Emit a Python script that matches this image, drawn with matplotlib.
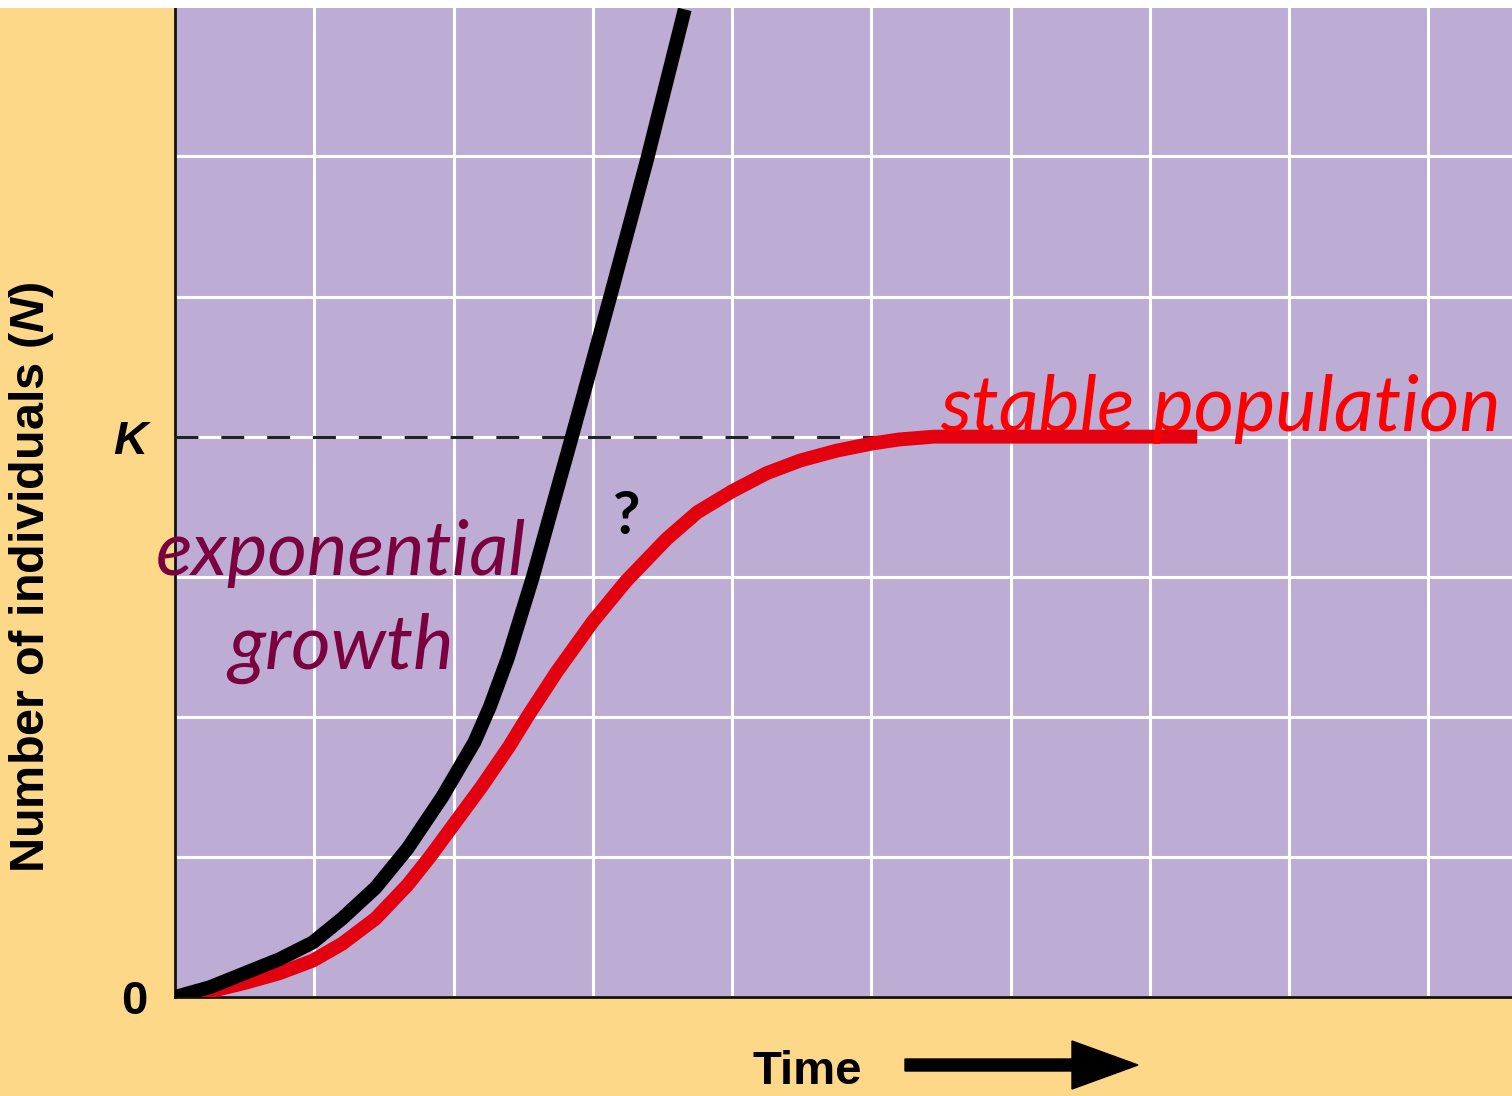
import matplotlib
matplotlib.use('Agg')
import matplotlib.pyplot as plt
from matplotlib.patches import FancyArrow, Rectangle

# values (x in grid cells of time, y in grid cells of N)
exp_time = [0, 0.25, 0.5, 0.75, 0.99, 1.2, 1.44, 1.67, 1.92, 2.15, 2.26, 2.39, 2.57, 2.69, 2.85, 3.12, 3.39, 3.66]
exp_n = [0, 0.07, 0.17, 0.27, 0.39, 0.56, 0.78, 1.06, 1.43, 1.82, 2.07, 2.42, 3.0, 3.43, 4.0, 4.98, 5.98, 7.05]

log_time = [0, 0.25, 0.5, 0.75, 0.99, 1.2, 1.44, 1.67, 1.83, 2.0, 2.2, 2.4, 2.53, 2.74, 3.0, 3.24,
            3.53, 3.75, 4.0, 4.25, 4.49, 4.75, 5.0, 5.2, 5.45, 7.34]
log_n = [0, 0.04, 0.1, 0.17, 0.26, 0.38, 0.56, 0.8, 1.0, 1.23, 1.5, 1.79, 2.0, 2.32, 2.68, 2.97,
         3.27, 3.46, 3.61, 3.74, 3.83, 3.9, 3.95, 3.98, 4.0, 4.0]

K = 4
k_line_end = 5.1
y_ticks = [0, 1, 2, 3, 4, 5, 6]
y_labels = ['0', '', '', '', 'K', '', '']
x_ticks = [1, 2, 3, 4, 5, 6, 7, 8, 9]

orange = '#FDD888'
purple = '#BDADD5'

plt.rcParams['mathtext.fontset'] = 'custom'
plt.rcParams['mathtext.bfit'] = 'Liberation Sans:italic:bold'

fig = plt.figure(figsize=(15.12, 10.96), dpi=100, facecolor=orange)
fig.patches.append(Rectangle((0, 1 - 8 / 1096), 1, 8 / 1096, transform=fig.transFigure,
                             facecolor='white', edgecolor='none'))
ax = fig.add_axes([175 / 1512, 99 / 1096, 1337 / 1512, 989 / 1096])
ax.set_facecolor(purple)

ax.set_xlim(0, 9.6)
ax.set_ylim(0, 7.06)
ax.set_xticks(x_ticks)
ax.set_yticks(y_ticks)
ax.set_yticklabels(y_labels, fontfamily='Liberation Sans', fontweight='bold', fontsize=34)
ax.get_yticklabels()[4].set_fontstyle('italic')
ax.tick_params(axis='x', length=0, labelbottom=False)
ax.tick_params(axis='y', length=0, pad=20)
ax.grid(True, color='white', linewidth=2.2)
ax.set_axisbelow(True)
for s in ['top', 'right']:
    ax.spines[s].set_visible(False)
for s in ['left', 'bottom']:
    ax.spines[s].set_linewidth(2)
    ax.spines[s].set_color('#111111')

ax.plot([0, k_line_end], [K, K], color='#222222', lw=2.2, dashes=(7.5, 7.5), zorder=3)
ax.plot(log_time, log_n, color='#E3000F', lw=10, solid_capstyle='butt', solid_joinstyle='round', zorder=4)
ax.plot(exp_time, exp_n, color='black', lw=10, solid_capstyle='butt', solid_joinstyle='round', zorder=5)

ax.text(1.19, 3.01, 'exponential', color='#7A0040', fontfamily='Lato', fontstyle='italic',
        fontsize=55, ha='center', va='baseline', zorder=6)
ax.text(1.19, 2.34, 'growth', color='#7A0040', fontfamily='Lato', fontstyle='italic',
        fontsize=55, ha='center', va='baseline', zorder=6)
ax.text(5.49, 4.04, 'stable population', color='#FF0000', fontfamily='Lato', fontstyle='italic',
        fontsize=56, ha='left', va='baseline', zorder=6)
ax.text(3.24, 3.43, '?', color='black', fontfamily='Lato', fontweight='bold',
        fontsize=43, ha='center', va='center', zorder=6)

fig.text(32 / 1512, 1 - 577 / 1096, r'Number of individuals ($\mathbfit{N}$)', rotation=90,
         fontfamily='Liberation Sans', fontweight='bold', fontsize=35, ha='center', va='center')
fig.text(807 / 1512, 1 - 1072 / 1096, 'Time', fontfamily='Liberation Sans', fontweight='bold',
         fontsize=34, ha='center', va='center')
fig.patches.append(FancyArrow(9.05, 0.31, 2.33, 0, width=0.12, head_width=0.48, head_length=0.66,
                              length_includes_head=True, color='black',
                              transform=fig.dpi_scale_trans))

fig.savefig('out.png', dpi=100, facecolor=fig.get_facecolor())
